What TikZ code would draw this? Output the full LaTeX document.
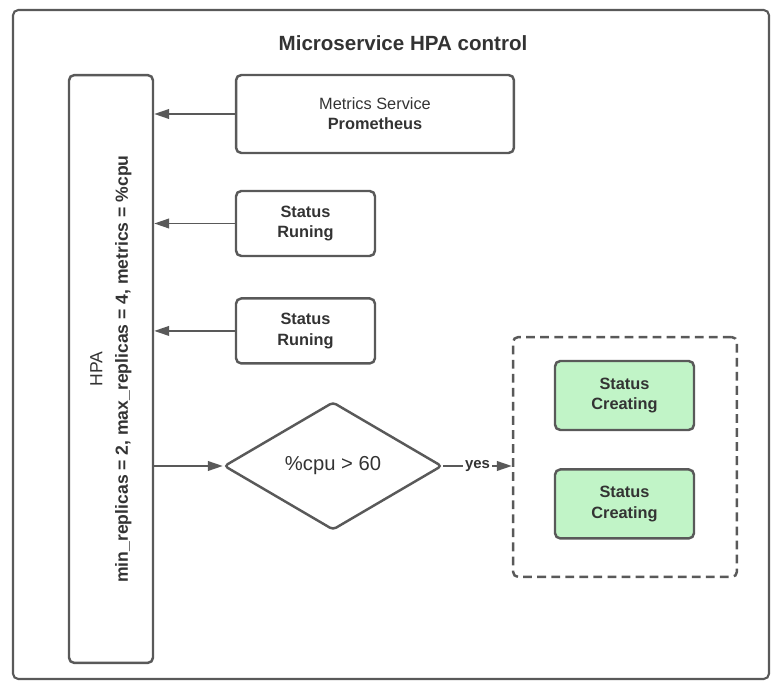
\documentclass[tikz,border=0pt]{standalone}
\usepackage{graphicx}
\usepackage{fontspec}
\setmainfont{Liberation Sans}
\usetikzlibrary{arrows.meta,positioning,shapes.geometric}
\definecolor{borde}{RGB}{89,89,89}
\definecolor{texto}{RGB}{51,51,51}
\definecolor{verdeclaro}{RGB}{193,244,199}
\tikzset{
  caja/.style={draw=borde,line width=1.4pt,rounded corners=3pt,text=texto,align=center,inner sep=0pt,font=\fontsize{9.3}{11.5}\selectfont},
  flecha/.style={draw=borde,line width=1pt,-{Triangle[length=8.5pt,width=5.5pt]}}
}

\begin{document}
\begin{tikzpicture}[x=0.02cm,y=-0.02cm]
\useasboundingbox (0,0) rectangle (779,682);
\draw[borde,line width=1.2pt,rounded corners=3pt] (13,10) rectangle (769,679);
\node[text=texto,font=\bfseries\fontsize{11.7}{13}\selectfont] (titulo) at (403,43) {Microservice HPA control};
\node[caja,minimum width=1.68cm,minimum height=11.76cm] (hpa) at (111,369)
{\rotatebox{90}{\begin{tabular}{@{}c@{}}\fontsize{10}{12}\selectfont HPA\\[3pt]\fontsize{10}{12}\selectfont\textbf{min\_replicas = 2, max\_replicas = 4, metrics = \%cpu}\end{tabular}}};
\node[caja,minimum width=5.56cm,minimum height=1.56cm] (metrics) at (375,114)
{Metrics Service\\\textbf{Prometheus}};
\node[caja,minimum width=2.78cm,minimum height=1.3cm,font=\bfseries\fontsize{9.3}{11.5}\selectfont] (run1) at (305.5,223.5)
{Status\\Runing};
\node[caja,minimum width=2.78cm,minimum height=1.3cm,font=\bfseries\fontsize{9.3}{11.5}\selectfont,below=0.8cm of run1] (run2)
{Status\\Runing};
\node[caja,diamond,rounded corners=2pt,minimum width=4.36cm,minimum height=2.56cm,font=\fontsize{11.5}{13}\selectfont] (cond) at (333,466)
{\%cpu > 60};
\node[caja,dashed,dash pattern=on 5pt off 3pt,minimum width=4.48cm,minimum height=4.8cm] (grupo) at (625,457) {};
\node[caja,fill=verdeclaro,minimum width=2.78cm,minimum height=1.38cm,font=\bfseries\fontsize{9.3}{11.5}\selectfont] (nuevo1) at (624.5,395.5)
{Status\\Creating};
\node[caja,fill=verdeclaro,minimum width=2.78cm,minimum height=1.38cm,font=\bfseries\fontsize{9.3}{11.5}\selectfont,below=0.74cm of nuevo1] (nuevo2)
{Status\\Creating};
\draw[flecha] (metrics.west) -- (metrics.west -| hpa.east);
\draw[flecha] (run1.west) -- (run1.west -| hpa.east);
\draw[flecha] (run2.west) -- (run2.west -| hpa.east);
\draw[flecha] (hpa.east |- cond.west) -- (cond.west);
\draw[flecha] (cond.east) -- node[fill=white,inner sep=1pt,text=texto,font=\bfseries\fontsize{8.5}{10}\selectfont] {yes} (cond.east -| grupo.west);
\end{tikzpicture}
\end{document}
